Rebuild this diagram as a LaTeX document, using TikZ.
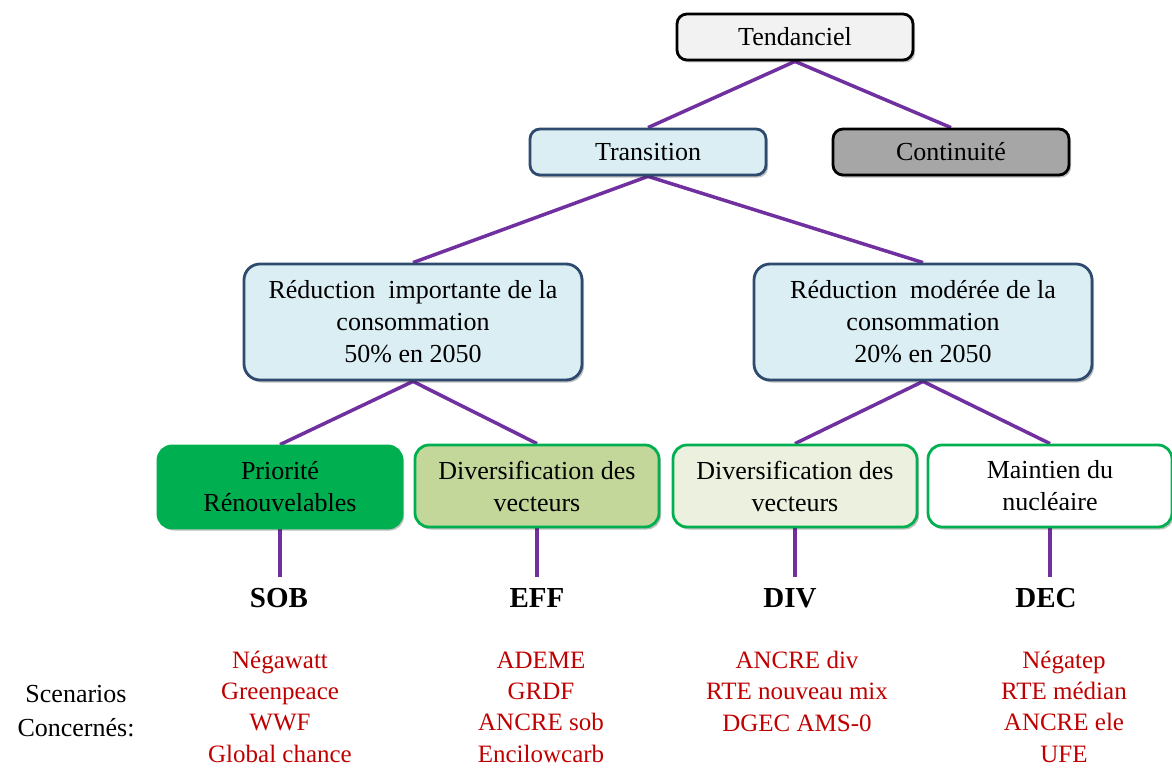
\documentclass[tikz,border=0pt]{standalone}
\usepackage{fontspec}
\setmainfont{Liberation Serif}
\usetikzlibrary{shadows,backgrounds}
\definecolor{purp}{HTML}{7030A0}
\definecolor{dblue}{HTML}{2E4A6E}
\definecolor{lblue}{HTML}{DBEEF4}
\definecolor{gr}{HTML}{00B050}
\definecolor{olive}{HTML}{C4D79B}
\definecolor{pale}{HTML}{EBF1DE}
\definecolor{redt}{HTML}{C00000}
\definecolor{grey1}{HTML}{F2F2F2}
\definecolor{grey2}{HTML}{A6A6A6}
\begin{document}
\begin{tikzpicture}[x=1pt,y=-1pt,
  shd/.style={drop shadow={shadow xshift=2pt,shadow yshift=-2.5pt,fill=black,opacity=0.25}},
  box/.style={shd,draw,line width=2.8pt,rounded corners=10pt,align=center,inner sep=0pt,
    font=\fontsize{26}{32}\selectfont},
  topbox/.style={box,minimum width=236pt,minimum height=46pt},
  midbox/.style={box,fill=lblue,draw=dblue,rounded corners=16pt,minimum width=338pt,minimum height=116pt},
  leafbox/.style={box,draw=gr,rounded corners=14pt,minimum width=244pt,minimum height=82pt},
  link/.style={draw=purp,line width=3.5pt},
  code/.style={font=\fontsize{29}{32}\selectfont\bfseries,anchor=base,inner sep=0pt},
  list/.style={font=\fontsize{25}{31.3}\selectfont,text=redt,align=center,anchor=base,inner sep=0pt},
  plain/.style={font=\fontsize{26}{33}\selectfont,anchor=base,inner sep=0pt}]
\useasboundingbox (0,0) rectangle (1172,768);

\node[topbox,fill=grey1] (tend) at (795,37) {Tendanciel};
\node[topbox,fill=lblue,draw=dblue] (trans) at (648,152) {Transition};
\node[topbox,fill=grey2] (cont) at (951,152) {Continuité};

\node[midbox] (redi) at (413,322) {Réduction~ importante de la\\consommation\\50\% en 2050};
\node[midbox] (redm) at (923,322) {Réduction~ modérée de la\\consommation\\20\% en 2050};

\node[leafbox,fill=gr] (prio) at (280,487) {Priorité\\Rénouvelables};
\node[leafbox,fill=olive] (divA) at (537,486) {Diversification des\\vecteurs};
\node[leafbox,fill=pale] (divB) at (795,486) {Diversification des\\vecteurs};
\node[leafbox,fill=white] (main) at (1050,486) {Maintien du\\nucléaire};

\coordinate (e1) at (280,577);
\coordinate (e2) at (537,577);
\coordinate (e3) at (795,577);
\coordinate (e4) at (1050,577);

\begin{scope}[on background layer]
\draw[link] (tend.south) -- (trans.north);
\draw[link] (tend.south) -- (cont.north);
\draw[link] (trans.south) -- (redi.north);
\draw[link] (trans.south) -- (redm.north);
\draw[link] (redi.south) -- (prio.north);
\draw[link] (redi.south) -- (divA.north);
\draw[link] (redm.south) -- (divB.north);
\draw[link] (redm.south) -- (main.north);
\draw[link] (prio.south) -- (e1);
\draw[link] (divA.south) -- (e2);
\draw[link] (divB.south) -- (e3);
\draw[link] (main.south) -- (e4);
\end{scope}

\node[code] (sob) at (279,607) {SOB};
\node[code] (eff) at (537,607) {EFF};
\node[code] (div) at (790,607) {DIV};
\node[code] (dec) at (1046,607) {DEC};

\node[list] (l1) at (280,762) {Négawatt\\Greenpeace\\WWF\\Global chance};
\node[list] (l2) at (541,762) {ADEME\\GRDF\\ANCRE sob\\Encilowcarb};
\node[list] (l3) at (797,731) {ANCRE div\\RTE nouveau mix\\DGEC AMS-0};
\node[list] (l4) at (1064,762) {Négatep\\RTE médian\\ANCRE ele\\UFE};

\node[plain] (sc1) at (76,702) {Scenarios};
\node[plain] (sc2) at (76,736) {Concernés:};
\end{tikzpicture}
\end{document}
